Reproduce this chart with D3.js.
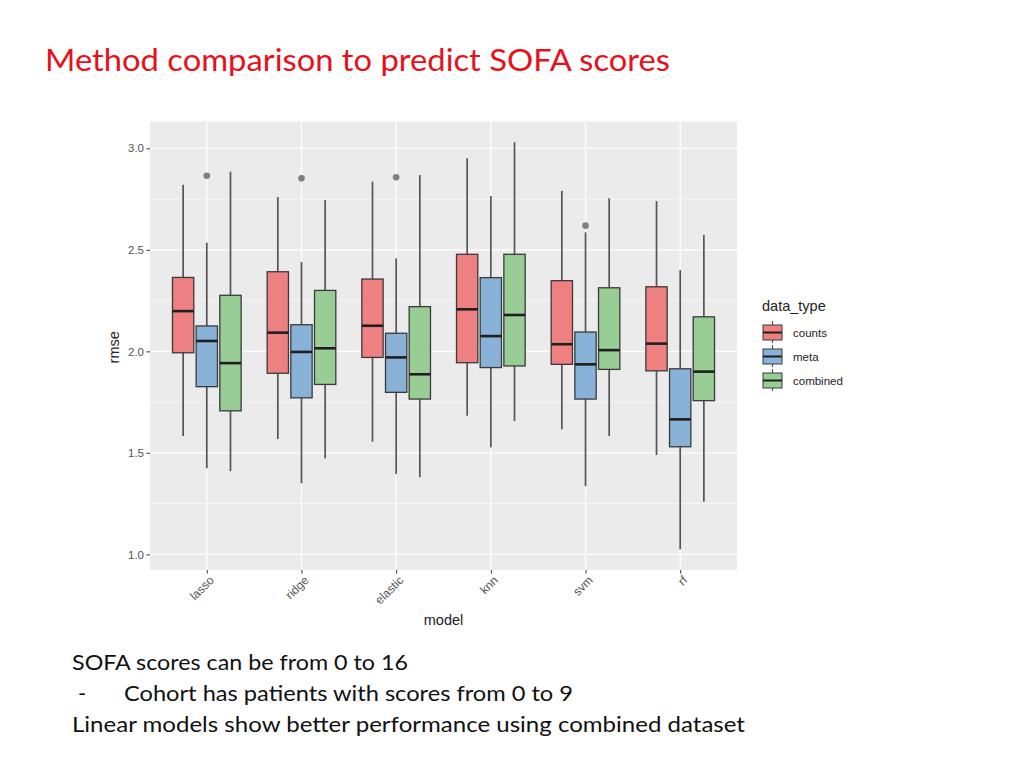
<!DOCTYPE html>
<html lang="en">
<head>
	<meta charset="utf-8">
	<title>Method comparison to predict SOFA scores</title>
	<style>
		body { margin: 0; background: #fff; }
	</style>
</head>
<body>
	<script src="https://cdn.jsdelivr.net/npm/d3@7"></script>
	<script>
		// categories
		const models = ["lasso", "ridge", "elastic", "knn", "svm", "rf"];
		const dataTypes = ["counts", "meta", "combined"];
		const yTicks = [1.0, 1.5, 2.0, 2.5, 3.0];
		const yMinor = [1.25, 1.75, 2.25, 2.75];

		// box stats per model: [lower whisker, q1, median, q3, upper whisker]
		const countsStats = [
			[1.583, 1.993, 2.198, 2.364, 2.820],
			[1.568, 1.892, 2.092, 2.392, 2.760],
			[1.555, 1.970, 2.126, 2.356, 2.836],
			[1.683, 1.944, 2.207, 2.478, 2.951],
			[1.616, 1.936, 2.035, 2.348, 2.790],
			[1.489, 1.904, 2.038, 2.318, 2.740]
		];
		const metaStats = [
			[1.424, 1.826, 2.051, 2.125, 2.535],
			[1.350, 1.771, 1.997, 2.131, 2.440],
			[1.396, 1.798, 1.970, 2.089, 2.458],
			[1.527, 1.920, 2.075, 2.363, 2.765],
			[1.336, 1.765, 1.936, 2.095, 2.586],
			[1.025, 1.530, 1.665, 1.914, 2.400]
		];
		const combinedStats = [
			[1.410, 1.707, 1.942, 2.276, 2.885],
			[1.473, 1.837, 2.015, 2.300, 2.745],
			[1.380, 1.765, 1.887, 2.220, 2.868],
			[1.657, 1.928, 2.179, 2.478, 3.030],
			[1.583, 1.911, 2.006, 2.313, 2.754],
			[1.259, 1.757, 1.900, 2.170, 2.573]
		];
		const outliers = [
			{ model: "lasso", type: "meta", value: 2.865 },
			{ model: "ridge", type: "meta", value: 2.852 },
			{ model: "elastic", type: "meta", value: 2.857 },
			{ model: "svm", type: "meta", value: 2.619 }
		];

		const fills = { counts: "#ee8081", meta: "#88b2d8", combined: "#98cd96" };

		const width = 1024, height = 768;
		const panel = { left: 150, right: 737, top: 121.5, bottom: 570 };
		const sans = "'Liberation Sans', Arial, sans-serif";

		const svg = d3.select("body").append("svg")
			.attr("width", width)
			.attr("height", height)
			.attr("viewBox", [0, 0, width, height]);

		// slide title
		svg.append("text")
			.attr("x", 45)
			.attr("y", 71)
			.attr("fill", "#e8101a")
			.attr("font-family", "Lato, 'Open Sans', sans-serif")
			.attr("font-size", 30)
			.attr("textLength", 625)
			.attr("lengthAdjust", "spacingAndGlyphs")
			.text("Method comparison to predict SOFA scores");

		const x = d3.scalePoint()
			.domain(models)
			.range([panel.left, panel.right])
			.padding(0.6);
		const step = x.step();
		const dodge = d3.scalePoint()
			.domain(dataTypes)
			.range([-step * 0.25, step * 0.25]);
		const boxW = step * 0.25 * 0.9;

		const y = d3.scaleLinear()
			.domain([0.923, 3.132])
			.range([panel.bottom, panel.top]);

		// panel background and grid
		svg.append("rect")
			.attr("x", panel.left)
			.attr("y", panel.top)
			.attr("width", panel.right - panel.left)
			.attr("height", panel.bottom - panel.top)
			.attr("fill", "#ebebeb");

		const grid = svg.append("g").attr("stroke", "#fff").attr("fill", "none");
		grid.selectAll(".minor").data(yMinor).join("line")
			.attr("x1", panel.left).attr("x2", panel.right)
			.attr("y1", d => y(d)).attr("y2", d => y(d))
			.attr("stroke-width", 0.6);
		grid.selectAll(".major").data(yTicks).join("line")
			.attr("x1", panel.left).attr("x2", panel.right)
			.attr("y1", d => y(d)).attr("y2", d => y(d))
			.attr("stroke-width", 1.3);
		grid.selectAll(".vmajor").data(models).join("line")
			.attr("x1", d => x(d)).attr("x2", d => x(d))
			.attr("y1", panel.top).attr("y2", panel.bottom)
			.attr("stroke-width", 1.3);

		// axes
		const yAxis = svg.append("g")
			.attr("transform", `translate(${panel.left},0)`)
			.call(d3.axisLeft(y).tickValues(yTicks).tickFormat(d3.format(".1f")).tickSize(3.5).tickPadding(2.5));
		const xAxis = svg.append("g")
			.attr("transform", `translate(0,${panel.bottom})`)
			.call(d3.axisBottom(x).tickSize(3.5).tickFormat(() => ""));
		[yAxis, xAxis].forEach(g => {
			g.select(".domain").remove();
			g.selectAll(".tick line").attr("stroke", "#444").attr("stroke-width", 1.1);
			g.selectAll(".tick text")
				.attr("fill", "#555")
				.attr("font-family", sans)
				.attr("font-size", 11.5);
		});

		svg.append("g").selectAll("text").data(models).join("text")
			.attr("transform", d => `translate(${x(d) + 5},${panel.bottom + 8}) rotate(-45)`)
			.attr("text-anchor", "end")
			.attr("dy", "0.35em")
			.attr("fill", "#555")
			.attr("font-family", sans)
			.attr("font-size", 12)
			.text(d => d);

		svg.append("text")
			.attr("x", (panel.left + panel.right) / 2)
			.attr("y", 625)
			.attr("text-anchor", "middle")
			.attr("font-family", sans)
			.attr("font-size", 14.5)
			.attr("fill", "#222")
			.text("model");

		svg.append("text")
			.attr("transform", `translate(119,${(y(1) + y(3)) / 2 - 4}) rotate(-90)`)
			.attr("text-anchor", "middle")
			.attr("font-family", sans)
			.attr("font-size", 14.5)
			.attr("fill", "#222")
			.text("rmse");

		// boxes
		const statsByType = { counts: countsStats, meta: metaStats, combined: combinedStats };
		const boxes = [];
		dataTypes.forEach(t => {
			statsByType[t].forEach((s, i) => {
				boxes.push({ model: models[i], type: t, lo: s[0], q1: s[1], med: s[2], q3: s[3], hi: s[4] });
			});
		});

		const bx = d => x(d.model) + dodge(d.type);

		const boxG = svg.append("g").selectAll("g").data(boxes).join("g");
		boxG.append("line")
			.attr("x1", bx).attr("x2", bx)
			.attr("y1", d => y(d.hi)).attr("y2", d => y(d.q3))
			.attr("stroke", "#555").attr("stroke-width", 1.7);
		boxG.append("line")
			.attr("x1", bx).attr("x2", bx)
			.attr("y1", d => y(d.q1)).attr("y2", d => y(d.lo))
			.attr("stroke", "#555").attr("stroke-width", 1.7);
		boxG.append("rect")
			.attr("x", d => bx(d) - boxW / 2)
			.attr("width", boxW)
			.attr("y", d => y(d.q3))
			.attr("height", d => y(d.q1) - y(d.q3))
			.attr("fill", d => fills[d.type])
			.attr("stroke", "#3a3a3a")
			.attr("stroke-width", 1.3);
		boxG.append("line")
			.attr("x1", d => bx(d) - boxW / 2).attr("x2", d => bx(d) + boxW / 2)
			.attr("y1", d => y(d.med)).attr("y2", d => y(d.med))
			.attr("stroke", "#1f1f1f").attr("stroke-width", 2.6);

		svg.append("g").selectAll("circle").data(outliers).join("circle")
			.attr("cx", d => x(d.model) + dodge(d.type))
			.attr("cy", d => y(d.value))
			.attr("r", 3.3)
			.attr("fill", "#808080");

		// legend
		const legend = svg.append("g").attr("transform", "translate(762,0)");
		legend.append("text")
			.attr("x", 0)
			.attr("y", 311)
			.attr("font-family", sans)
			.attr("font-size", 14.5)
			.attr("fill", "#222")
			.text("data_type");
		const item = legend.selectAll(".item").data(dataTypes).join("g")
			.attr("transform", (d, i) => `translate(0,${321 + i * 24})`);
		item.append("line")
			.attr("x1", 10.5).attr("x2", 10.5).attr("y1", 0).attr("y2", 22)
			.attr("stroke", "#555").attr("stroke-width", 1.2);
		item.append("rect")
			.attr("x", 1).attr("y", 4).attr("width", 19).attr("height", 15)
			.attr("fill", d => fills[d])
			.attr("stroke", "#3a3a3a").attr("stroke-width", 1);
		item.append("line")
			.attr("x1", 1).attr("x2", 20).attr("y1", 11.5).attr("y2", 11.5)
			.attr("stroke", "#1f1f1f").attr("stroke-width", 2);
		item.append("text")
			.attr("x", 31)
			.attr("y", 11.5)
			.attr("dy", "0.35em")
			.attr("font-family", sans)
			.attr("font-size", 11.5)
			.attr("fill", "#222")
			.text(d => d);

		// notes under the chart
		const notes = svg.append("g")
			.attr("font-family", "Lato, 'Open Sans', sans-serif")
			.attr("font-size", 22)
			.attr("fill", "#111");
		notes.append("text").attr("x", 72).attr("y", 670)
			.attr("textLength", 336).attr("lengthAdjust", "spacingAndGlyphs")
			.text("SOFA scores can be from 0 to 16");
		notes.append("text").attr("x", 78).attr("y", 701).text("-");
		notes.append("text").attr("x", 124).attr("y", 701)
			.attr("textLength", 449).attr("lengthAdjust", "spacingAndGlyphs")
			.text("Cohort has patients with scores from 0 to 9");
		notes.append("text").attr("x", 72).attr("y", 732)
			.attr("textLength", 673).attr("lengthAdjust", "spacingAndGlyphs")
			.text("Linear models show better performance using combined dataset");
	</script>
</body>
</html>
